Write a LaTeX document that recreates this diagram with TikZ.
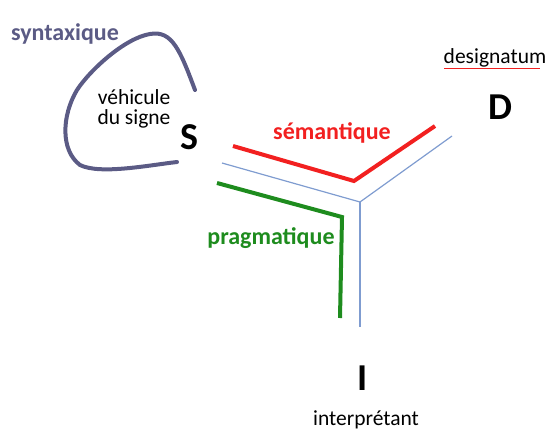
\documentclass[tikz,border=0pt]{standalone}
\usepackage{fontspec}
\setmainfont{Carlito}
\usepackage{xcolor}
\definecolor{synblue}{HTML}{5B5B85}
\definecolor{semred}{HTML}{F22020}
\definecolor{pragreen}{HTML}{1E8C1E}
\definecolor{axisblue}{HTML}{7F9CD0}

\begin{document}
\begin{tikzpicture}[x=1pt, y=-1pt,
  letter/.style={font=\fontsize{38}{42}\selectfont\bfseries},
  dimlabel/.style={font=\fontsize{24}{28}\selectfont\bfseries},
  plain/.style={font=\fontsize{21.5}{24}\selectfont, align=center},
  axis/.style={axisblue, line width=1.2pt},
  dimline/.style={line width=4pt},
]
  \useasboundingbox (0,0) rectangle (546,432);

  % Letters and their names
  \node[letter] (S) at (189,137) {S};
  \node[letter] (D) at (500,107) {D};
  \node[letter] (I) at (363,378) {I};
  \node[plain] (vehic) at (134,109) {véhicule\\[-4pt]du signe};
  \node[plain] (desig) at (495,58) {designatum};
  \node[plain, inner sep=0pt] (interp) at (366,420) {interprétant};

  % Axes
  \coordinate (c) at (360,202);
  \coordinate (cs) at (222,163);
  \coordinate (cd) at (452,136);
  \coordinate (ci) at (360,327);
  \draw[axis] (cs) -- (c) -- (cd);
  \draw[axis] (c) -- (ci);

  % Semantique
  \coordinate (r1) at (233,146);
  \coordinate (r2) at (354,181);
  \coordinate (r3) at (435,126);
  \draw[dimline, semred] (r1) -- (r2) -- (r3);
  \node[dimlabel, semred] (sem) at (332,133) {sémantique};

  % Pragmatique
  \coordinate (g1) at (217,183);
  \coordinate (g2) at (342,217);
  \coordinate (g3) at (340,318);
  \draw[dimline, pragreen] (g1) -- (g2) -- (g3);
  \node[dimlabel, pragreen] (prag) at (271,238) {pragmatique};

  % Syntaxique
  \draw[synblue, line width=4pt, line cap=round]
    (195,90) .. controls (180,50) and (172,30) .. (150,34)
    .. controls (125,38) and (90,70) .. (77,90)
    .. controls (62,115) and (60,150) .. (80,165)
    .. controls (100,175) and (150,165) .. (177,162);
  \node[dimlabel, synblue] (synt) at (65,34) {syntaxique};

  % spell-check underline
  \draw[semred, line width=1.5pt] (desig.base west) ++(4,5) -- ++(96,0);
\end{tikzpicture}
\end{document}
